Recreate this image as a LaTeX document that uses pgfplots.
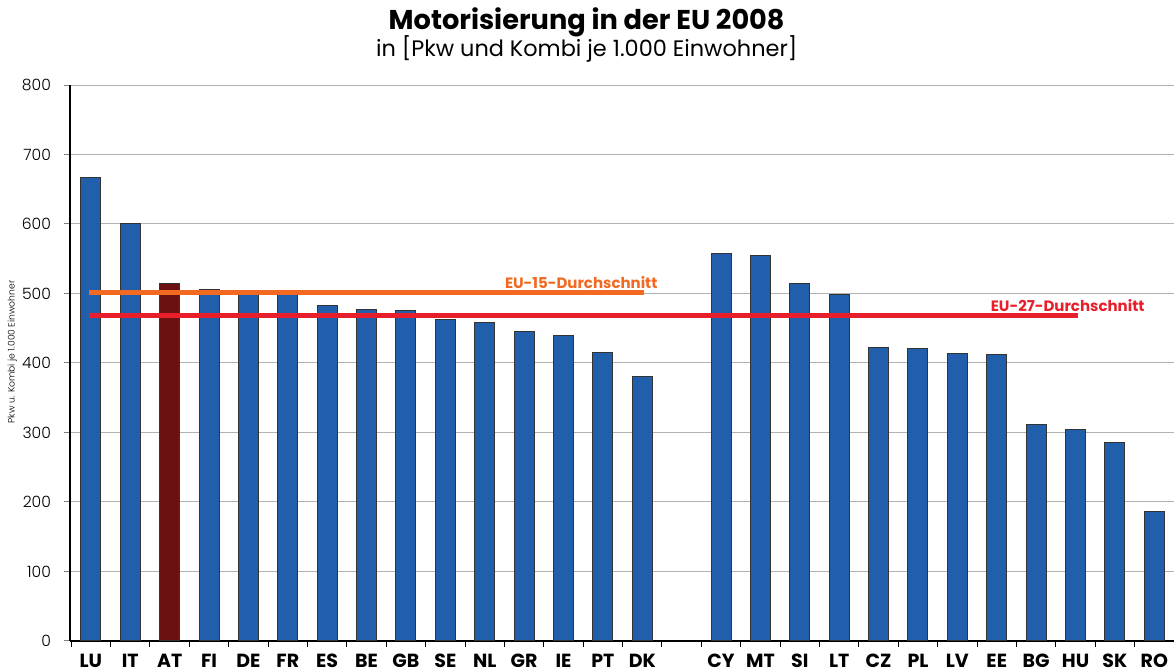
\documentclass[border=0pt]{standalone}
\usepackage{fontspec}
\setmainfont{Poppins}
\newfontfamily\lightfont{Poppins Light}
\usepackage{pgfplots}
\pgfplotsset{compat=1.18}
\definecolor{barblue}{RGB}{33,94,172}
\definecolor{barred}{RGB}{108,16,18}
\definecolor{eu15}{RGB}{242,106,34}
\definecolor{eu27}{RGB}{232,30,42}

\begin{document}
\begin{tikzpicture}
\begin{axis}[
  scale only axis, width=552pt, height=278pt,
  ybar, bar width=10pt,
  xmin=-0.53, xmax=27.5,
  ymin=0, ymax=800,
  ytick={0,100,...,800},
  axis lines=left, axis line style={-, line width=0.6pt},
  ymajorgrids, grid style={line width=0.5pt, draw=gray!60},
  xtick={0,...,14,16,17,...,27},
  xticklabels={LU,IT,AT,FI,DE,FR,ES,BE,GB,SE,NL,GR,IE,PT,DK,CY,MT,SI,LT,CZ,PL,LV,EE,BG,HU,SK,RO},
  xticklabel style={font=\fontsize{9.5}{10}\selectfont\bfseries, inner sep=0pt, anchor=north, yshift=-3.5pt},
  xtick style={draw=none},
  minor xtick={-0.5,0.5,...,27.5},
  minor tick length=3pt,
  minor x tick style={draw=black, line width=0.5pt},
  tick align=outside,
  ytick style={line width=0.5pt},
  major tick length=3pt,
  yticklabel style={font=\fontsize{7.8}{9}\lightfont, xshift=-3pt},
  /pgf/number format/assume math mode=true,
  ylabel={Pkw u. Kombi je 1.000 Einwohner},
  ylabel style={font=\fontsize{4.6}{5}\lightfont, yshift=23pt, at={(rel axis cs:0,0.52)}},
  clip=false,
]
\addplot+[bar shift=0pt, draw=black!80, line width=0.5pt, fill=barblue] coordinates {
  (0,667) (1,601) (3,506) (4,503) (5,499) (6,483) (7,477) (8,475) (9,462)
  (10,458) (11,446) (12,439) (13,415) (14,381)
  (16,557) (17,555) (18,514) (19,499) (20,422) (21,421) (22,413) (23,412)
  (24,311) (25,305) (26,285) (27,187)};
\addplot+[bar shift=0pt, draw=black!80, line width=0.5pt, fill=barred] coordinates {(2,514)};
\addplot[sharp plot, draw=eu15, line width=2.5pt] coordinates {(-0.05,501) (14.05,501)};
\addplot[sharp plot, draw=eu27, line width=2.5pt] coordinates {(-0.05,469) (25.05,469)};
\node[font=\fontsize{7.5}{9}\selectfont\bfseries, text=eu15, anchor=south, inner sep=1pt] at (axis cs:12.45,503) {EU-15-Durchschnitt};
\node[font=\fontsize{7.5}{9}\selectfont\bfseries, text=eu27, anchor=south, inner sep=1pt] at (axis cs:24.8,471) {EU-27-Durchschnitt};
\node[font=\fontsize{13.6}{15}\selectfont\bfseries] at ([yshift=31.5pt]rel axis cs:0.468,1) {Motorisierung in der EU 2008};
\node[font=\fontsize{11.2}{13}\selectfont] at ([yshift=18pt]rel axis cs:0.468,1) {in [Pkw und Kombi je 1.000 Einwohner]};
\coordinate (ll) at (rel axis cs:0,0);
\coordinate (ur) at (rel axis cs:1,1);
\end{axis}
\pgfresetboundingbox
\path ([shift={(-35pt,-15.5pt)}]ll) rectangle ([shift={(0pt,42.5pt)}]ur);
\end{tikzpicture}
\end{document}
